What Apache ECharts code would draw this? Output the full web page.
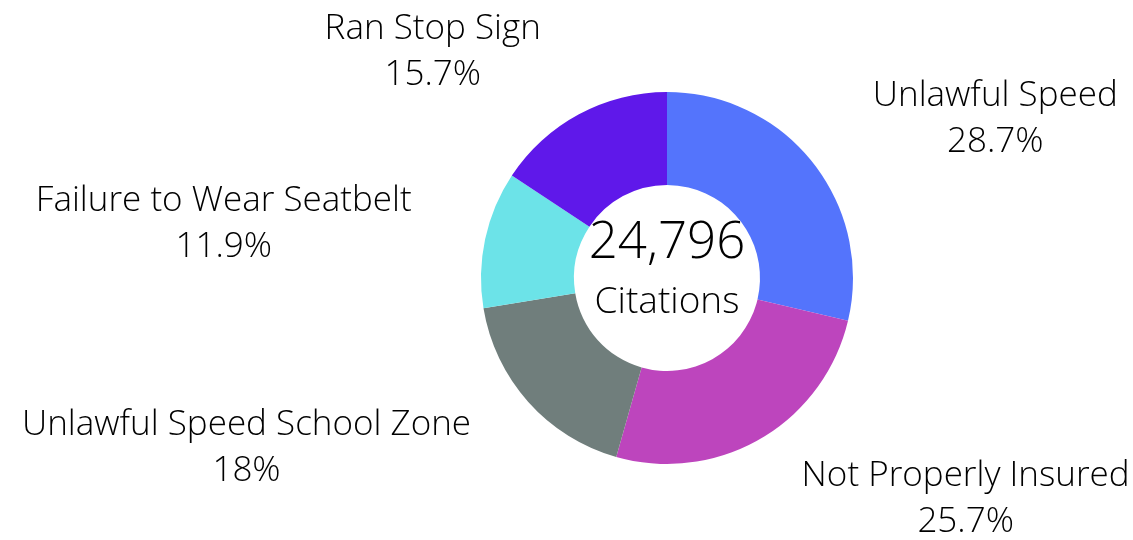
<!DOCTYPE html>
<html>
<head>
<meta charset="utf-8">
<script src="https://cdn.jsdelivr.net/npm/echarts@6/dist/echarts.min.js"></script>
<style>
  html, body { margin: 0; padding: 0; background: #ffffff; }
  #chart { width: 1133px; height: 540px; }
</style>
</head>
<body>
<div id="chart"></div>
<script>
// Citation types, clockwise from 12 o'clock
const categories = [
  'Unlawful Speed',
  'Not Properly Insured',
  'Unlawful Speed School Zone',
  'Failure to Wear Seatbelt',
  'Ran Stop Sign'
];
// Share of all citations, in percent
const sharePercent = [28.7, 25.7, 18, 11.9, 15.7];
const sliceColors = ['#5474FC', '#BD45BD', '#707E7C', '#6CE3E8', '#5F18EA'];
const totalCitations = 24796;
const centerCaption = 'Citations';

const FONT = '"Open Sans", sans-serif';
const cx = 667, cy = 278;

const chart = echarts.init(document.getElementById('chart'), null, { renderer: 'canvas' });

chart.setOption({
  animation: false,
  backgroundColor: '#ffffff',
  graphic: [
    {
      type: 'text', x: cx, y: cy - 35,
      style: {
        text: totalCitations.toLocaleString('en-US'),
        font: '300 51px ' + FONT, fill: '#000000',
        textAlign: 'center', textVerticalAlign: 'middle'
      }
    },
    {
      type: 'text', x: cx, y: cy + 24,
      style: {
        text: centerCaption,
        font: '300 37px ' + FONT, fill: '#000000',
        textAlign: 'center', textVerticalAlign: 'middle'
      }
    }
  ],
  series: [{
    type: 'pie',
    center: [cx, cy],
    radius: [93, 186],
    startAngle: 90,
    clockwise: true,
    avoidLabelOverlap: false,
    data: categories.map((name, i) => ({
      name, value: sharePercent[i], itemStyle: { color: sliceColors[i] }
    })),
    label: {
      show: true,
      position: 'outside',
      formatter: p => p.name + '\n' + p.value + '%',
      fontFamily: FONT,
      fontWeight: 300,
      fontSize: 35,
      lineHeight: 46,
      color: '#000000'
    },
    labelLine: { show: false, length: 70, length2: 0 },
    labelLayout: function (p) {
      return { x: p.labelRect.x + p.labelRect.width / 2, align: 'center' };
    }
  }]
});
</script>
</body>
</html>
